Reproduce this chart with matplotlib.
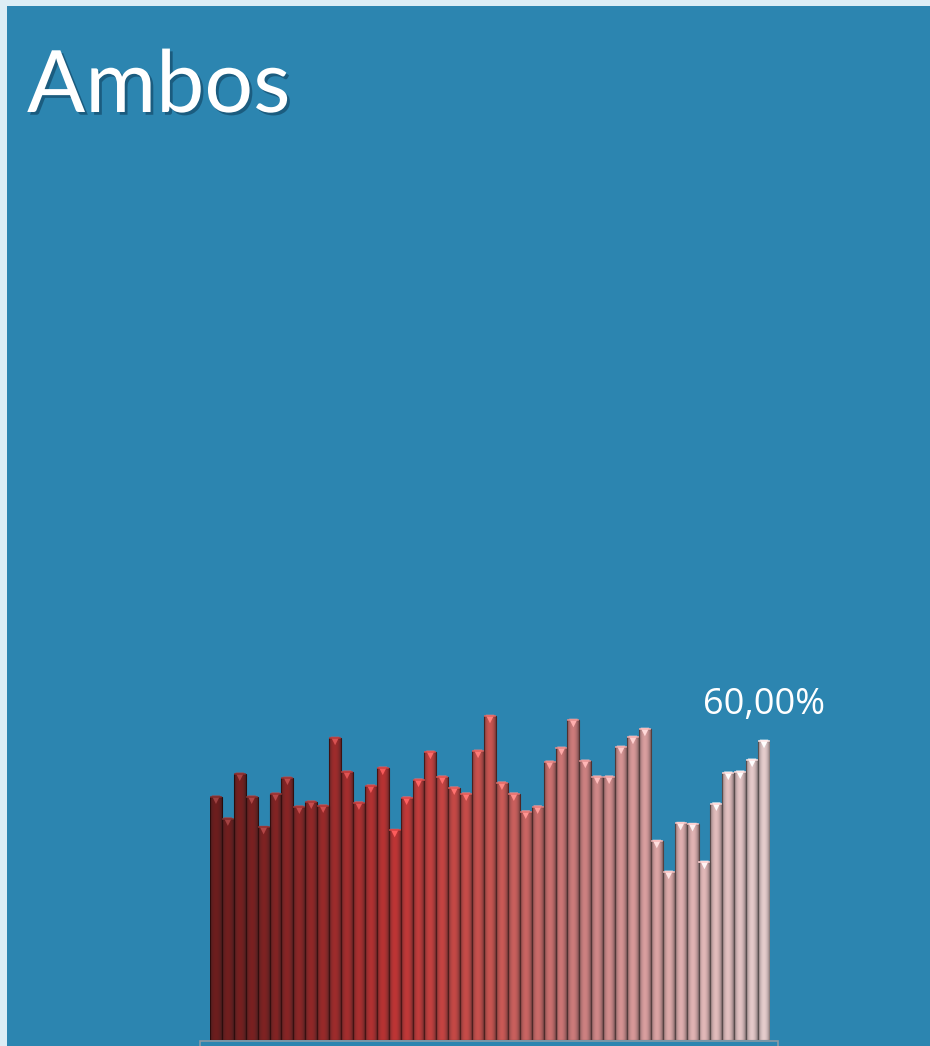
import numpy as np
import matplotlib
matplotlib.use("Agg")
import matplotlib.pyplot as plt
from matplotlib.colors import LinearSegmentedColormap
from matplotlib.patches import Rectangle
import matplotlib.patheffects as pe

# ---- data ----
title = "Ambos"
values = [48.8, 44.4, 53.4, 48.8, 42.7, 49.4, 52.6, 46.8, 47.8, 47.0,
          60.6, 53.8, 47.6, 51.0, 54.6, 42.1, 48.6, 52.2, 57.8, 52.8,
          50.6, 49.4, 58.0, 65.0, 51.6, 49.4, 45.8, 46.8, 55.8, 58.6,
          64.2, 56.0, 52.8, 52.8, 58.8, 60.8, 62.4, 39.9, 33.7, 43.5,
          43.3, 35.7, 47.4, 53.6, 53.8, 56.2, 60.0]
label_text = "60,00%"

W, H = 930, 1046
fig = plt.figure(figsize=(W / 100, H / 100), dpi=100)
fig.patch.set_facecolor("#DCEDF5")
fig.patches.append(Rectangle((7 / W, 0), 1, 1 - 6 / H, transform=fig.transFigure,
                             facecolor="#2C85B0", edgecolor="none", zorder=-5))

# floor box
fig.patches.append(Rectangle((200 / W, -0.01), 578 / W, 0.01 + 5 / H, transform=fig.transFigure,
                             facecolor="none", edgecolor="#8A9AA4", lw=1.2, zorder=-4))

ax = fig.add_axes([210 / W, 6 / H, 560 / W, 498 / H])
ax.set_zorder(3)
ax.set_facecolor("none")
n = len(values)
ax.set_xlim(-0.5, n - 0.5)
ax.set_ylim(0, 100)
ax.axis("off")

cmap = LinearSegmentedColormap.from_list(
    "rb", ["#6A1C1C", "#8C2626", "#BC3434", "#C4524E", "#C87C7C", "#DAA8A8", "#E0C8C8"],
    N=256)
stops = cmap(np.linspace(0, 1, n))

# cylinder shading profile across each bar
nsl = 12
edges = np.linspace(-0.5, 0.5, nsl + 1)
centers = (edges[:-1] + edges[1:]) / 2
prof = 0.55 + 0.47 * np.cos(centers * np.pi * 0.95) ** 0.6
grey = np.array([0.35, 0.35, 0.38])

x = np.arange(n)
for i, v in enumerate(values):
    base = np.array(stops[i][:3])
    for c, f in zip(centers, prof):
        t = (1.02 - f) / 0.47
        col = np.clip(base * f * (1 - 0.3 * t) + grey * 0.3 * t * f, 0, 1)
        ax.bar(x[i] + c, v, width=1.0 / nsl + 0.002, color=col, edgecolor="none", zorder=2)
    ax.bar(x[i], v, width=1.0, facecolor="none", edgecolor=tuple(base * 0.4), lw=0.8, zorder=3)
    cap = np.clip(base * 1.2 + 0.12, 0, 1)
    ax.scatter([x[i]], [v - 0.55], marker="v", s=38, color=cap, edgecolors="none", zorder=4)
    ax.plot([x[i] - 0.42, x[i] + 0.42], [v, v], color=np.clip(base * 1.1 + 0.05, 0, 1), lw=1.2, zorder=4)

ax.text(x[-1], values[-1] + 3.6, label_text, ha="center", va="bottom", color="white",
        fontsize=26, family="Open Sans")

fig.text(27 / W, 1 - 112 / H, title, ha="left", va="baseline", color="white",
         fontsize=62, family="Lato",
         path_effects=[pe.withSimplePatchShadow(offset=(2, -2), shadow_rgbFace="#0B3550", alpha=0.5)])

fig.savefig("out.png", dpi=100, facecolor=fig.get_facecolor())
